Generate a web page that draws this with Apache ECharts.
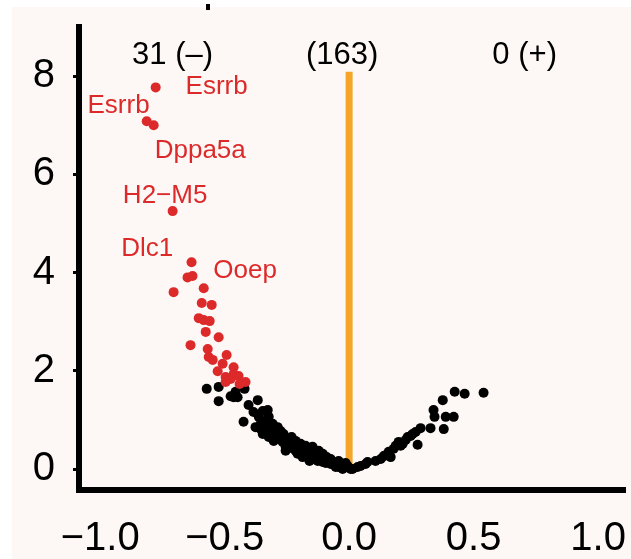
<!DOCTYPE html>
<html><head><meta charset="utf-8">
<script src="https://cdn.jsdelivr.net/npm/echarts@6/dist/echarts.min.js"></script>
<style>html,body{margin:0;padding:0;background:#fff}#c{width:631px;height:559px}</style>
</head><body><div id="c"></div>
<script>
const xTicks = [-1, -0.5, 0, 0.5, 1];
const yTicks = [0, 2, 4, 6, 8];

// significant (down) genes, red
const sigDown = [
 [-0.777,7.77],[-0.813,7.08],[-0.785,7.00],[-0.709,5.25],[-0.633,4.21],[-0.649,3.90],[-0.629,3.93],
 [-0.705,3.60],[-0.584,3.68],[-0.592,3.38],[-0.552,3.34],[-0.604,3.07],[-0.584,3.03],[-0.560,3.01],
 [-0.576,2.79],[-0.524,2.68],[-0.637,2.52],[-0.568,2.44],[-0.564,2.28],[-0.492,2.32],[-0.508,2.14],
 [-0.464,2.07],[-0.528,1.99],[-0.496,1.87],[-0.444,1.89],[-0.476,1.83],[-0.416,1.77],[-0.496,1.77],
 [-0.440,1.73],[-0.548,2.22],[-0.464,1.93]
];

// non-significant genes, black
const notSig = [
 [-0.572,1.63],[-0.524,1.67],[-0.524,1.38],[-0.476,1.48],[-0.456,1.57],[-0.420,1.63],[-0.464,1.46],
 [-0.448,1.46],[-0.404,1.30],[-0.367,1.40],[-0.384,1.16],[-0.347,1.18],[-0.327,1.20],[-0.424,0.96],
 [-0.376,0.85],[-0.335,0.98],[-0.307,0.92],[-0.287,0.85],[-0.315,0.75],[-0.347,0.71],[-0.303,0.57],
 [-0.263,0.71],[-0.247,0.61],[-0.235,0.51],[-0.255,0.45],[-0.223,0.41],[-0.203,0.45],[-0.183,0.35],
 [-0.167,0.24],[-0.143,0.31],[-0.114,0.26],[-0.086,0.16],[-0.062,0.14],[-0.034,0.08],[-0.006,0.06],
 [0.014,0.00],[-0.363,1.06],[-0.323,1.06],[-0.295,0.81],[-0.275,0.77],[-0.335,0.81],[-0.283,0.61],
 [-0.267,0.55],[-0.215,0.57],[-0.195,0.51],[-0.207,0.31],[-0.175,0.41],[-0.155,0.37],[-0.135,0.20],
 [-0.122,0.37],[-0.102,0.22],[-0.074,0.20],[-0.050,0.10],[-0.022,0.04],[0.006,0.00],[-0.243,0.45],
 [-0.231,0.65],[-0.187,0.24],[-0.159,0.16],[-0.094,0.12],[-0.042,0.16],[-0.014,0.12],[-0.355,0.92],
 [-0.323,0.65],[-0.147,0.45],[-0.106,0.31],
 [-0.255,0.37],[-0.215,0.37],[-0.195,0.31],[-0.155,0.24],[-0.126,0.16],[-0.106,0.14],[-0.074,0.10],
 [-0.054,0.04],[-0.147,0.28],[-0.235,0.55],[-0.275,0.65],[-0.295,0.67],[-0.315,0.85],[-0.355,0.81],
 [-0.175,0.47],[-0.211,0.51],[-0.122,0.24],[-0.090,0.24],[-0.026,0.00],[-0.042,0.04],
 [0.034,0.04],[0.066,0.10],[0.074,0.14],[0.046,0.06],[0.127,0.20],[0.139,0.26],[0.147,0.28],
 [0.159,0.35],[0.167,0.24],[0.179,0.41],[0.187,0.47],[0.199,0.55],[0.215,0.51],[0.227,0.59],
 [0.235,0.65],[0.247,0.67],[0.267,0.75],[0.275,0.49],[0.287,0.83],[0.327,0.83],[0.380,0.81],
 [0.343,1.06],[0.339,1.20],[0.388,1.06],[0.420,1.06],[0.376,1.40],[0.424,1.57],[0.464,1.53],
 [0.540,1.55],[0.106,0.16],[0.255,0.71],[0.207,0.47]
];

const geneNames = ['Esrrb','Esrrb','Dppa5a','H2\u2212M5','Dlc1','Ooep'];
const geneLabelX = [-0.532,-0.926,-0.598,-0.739,-0.811,-0.418];
const geneLabelY = [7.79,7.40,6.48,5.57,4.49,4.03];

const countText = ['31 (\u2013)','(163)','0 (+)'];
const countX = [-0.709,-0.028,0.705];
const countY = [8.43,8.43,8.43];

const cutoffLine = [[0,0],[0,8.09]];

const FONT = "'Liberation Sans', Arial, Helvetica, sans-serif";
const RED = '#dc2a2a';
const ORANGE = '#f5a52a';

const chart = echarts.init(document.getElementById('c'), null, {renderer:'canvas'});
chart.setOption({
  animation: false,
  backgroundColor: '#ffffff',
  textStyle: {fontFamily: FONT},
  graphic: [
    {type:'rect', z:-100, silent:true, shape:{x:12,y:7,width:619,height:552}, style:{fill:'#fdf8f5'}},
    {type:'rect', z:-99, silent:true, shape:{x:206,y:4,width:4,height:6}, style:{fill:'#000'}}
  ],
  grid: {left:79, right:8, top:27, bottom:68, containLabel:false},
  xAxis: {
    type:'value', min:-1.085, max:1.1,
    axisLine:{show:true, onZero:false, lineStyle:{color:'#000', width:6, cap:'square'}},
    axisTick:{show:false},
    splitLine:{show:false},
    axisLabel:{customValues:xTicks, fontSize:40, color:'#000', margin:29, fontFamily:FONT,
      formatter:v => (v < 0 ? '\u2212' : '') + Math.abs(v).toFixed(1)}
  },
  yAxis: {
    type:'value', min:-0.43, max:9.0,
    axisLine:{show:true, onZero:false, lineStyle:{color:'#000', width:6, cap:'square'}},
    axisTick:{show:true, customValues:yTicks, length:6, lineStyle:{color:'#000', width:3}},
    splitLine:{show:false},
    axisLabel:{customValues:yTicks, fontSize:40, color:'#000', margin:24, fontFamily:FONT,
      formatter:v => String(v)}
  },
  series: [
    {type:'line', data:cutoffLine, symbol:'none', silent:true, z:1,
     lineStyle:{color:ORANGE, width:7}},
    {type:'scatter', data:notSig, symbolSize:10, z:2, itemStyle:{color:'#000', opacity:1}},
    {type:'scatter', data:sigDown, symbolSize:10, z:3, itemStyle:{color:RED, opacity:1}},
    {type:'scatter', z:4, symbolSize:0, silent:true, itemStyle:{opacity:1},
     data: geneNames.map((n,i) => ({name:n, value:[geneLabelX[i], geneLabelY[i]]})),
     label:{show:true, position:'inside', formatter:'{b}', fontSize:26, color:RED, opacity:1, fontFamily:FONT}},
    {type:'scatter', z:4, symbolSize:0, silent:true, itemStyle:{opacity:1},
     data: countText.map((n,i) => ({name:n, value:[countX[i], countY[i]]})),
     label:{show:true, position:'inside', formatter:'{b}', fontSize:31, color:'#000', opacity:1, fontFamily:FONT}}
  ]
});
</script></body></html>
